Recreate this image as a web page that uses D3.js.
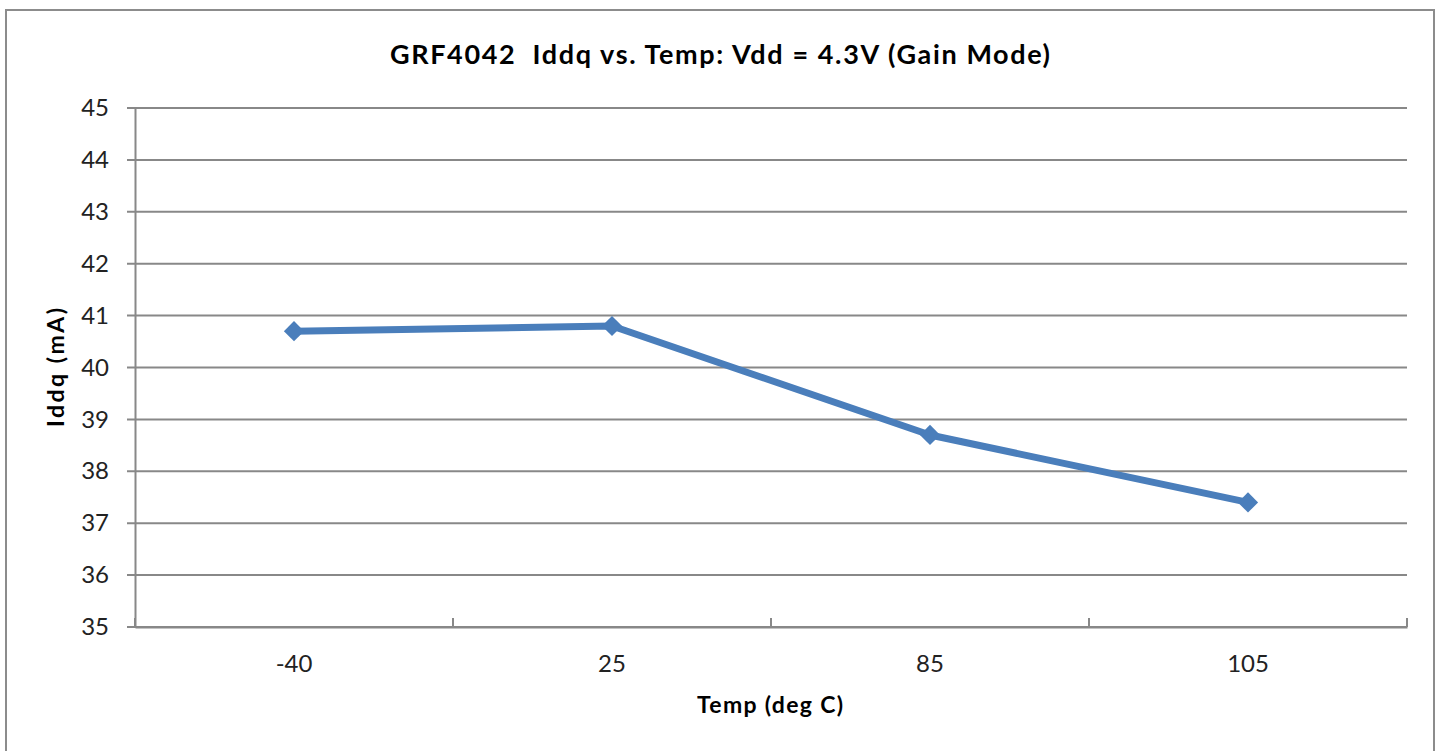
<!DOCTYPE html>
<html>
<head>
<meta charset="utf-8">
<title>GRF4042 Iddq vs. Temp</title>
<script src="https://cdn.jsdelivr.net/npm/d3@7"></script>
<style>
  body { margin: 0; background: #fff; }
  svg { display: block; font-family: Lato, "Open Sans", sans-serif; }
</style>
</head>
<body>
<svg width="1440" height="751"></svg>
<script>
// data
const temps = ['-40', '25', '85', '105']
const iddq = [40.7, 40.8, 38.7, 37.4]
const yTicks = [35, 36, 37, 38, 39, 40, 41, 42, 43, 44, 45]

const svg = d3.select('svg')
const margin = {top: 108, right: 33, bottom: 124, left: 135}
const width = 1440, height = 751
const innerWidth = width - margin.left - margin.right
const innerHeight = height - margin.top - margin.bottom
const gridColor = '#888888'
const lineColor = '#4a7ebb'
const font = 'Lato, "Open Sans", sans-serif'

// outer chart border
svg.append('rect')
  .attr('x', 6).attr('y', 10)
  .attr('width', 1428).attr('height', 760)
  .attr('fill', 'none')
  .attr('stroke', '#8c8c8c')
  .attr('stroke-width', 2)

svg.append('text')
  .attr('x', 720).attr('y', 64)
  .attr('text-anchor', 'middle')
  .attr('font-size', 27).attr('font-weight', 'bold')
  .attr('textLength', 660).attr('lengthAdjust', 'spacing')
  .attr('fill', '#000')
  .style('white-space', 'pre')
  .text('GRF4042  Iddq vs. Temp: Vdd = 4.3V (Gain Mode)')

const g = svg.append('g').attr('transform', `translate(${margin.left},${margin.top})`)

const x = d3.scaleBand().domain(temps).range([0, innerWidth])
const y = d3.scaleLinear().domain([35, 45]).range([innerHeight, 0])

// gridlines
g.append('g')
  .selectAll('line')
  .data(yTicks)
  .join('line')
  .attr('x1', -8).attr('x2', innerWidth)
  .attr('y1', d => y(d)).attr('y2', d => y(d))
  .attr('stroke', gridColor).attr('stroke-width', 2)

// y axis
const yAxis = g.append('g')
  .call(d3.axisLeft(y).tickValues(yTicks).tickSize(0).tickPadding(26))
yAxis.select('.domain').attr('stroke', gridColor).attr('stroke-width', 2)
yAxis.selectAll('text').attr('font-size', 24).attr('fill', '#222')
  .style('font-family', font)

// x axis with tick marks at category boundaries
const xAxis = g.append('g').attr('transform', `translate(0,${innerHeight})`)
  .call(d3.axisBottom(x).tickSize(0).tickPadding(28))
xAxis.select('.domain').attr('stroke', gridColor).attr('stroke-width', 2)
xAxis.selectAll('text').attr('font-size', 24).attr('fill', '#222')
  .style('font-family', font)
const bounds = temps.map(t => x(t)).concat([innerWidth])
xAxis.append('g').selectAll('line')
  .data(bounds)
  .join('line')
  .attr('x1', d => d).attr('x2', d => d)
  .attr('y1', 0).attr('y2', -9)
  .attr('stroke', gridColor).attr('stroke-width', 2)

// axis titles
svg.append('text')
  .attr('transform', `translate(64,${margin.top + innerHeight / 2}) rotate(-90)`)
  .attr('text-anchor', 'middle')
  .attr('font-size', 23).attr('font-weight', 'bold')
  .attr('textLength', 119).attr('lengthAdjust', 'spacing')
  .text('Iddq (mA)')

svg.append('text')
  .attr('x', 770).attr('y', 713)
  .attr('text-anchor', 'middle')
  .attr('font-size', 23).attr('font-weight', 'bold')
  .attr('textLength', 146).attr('lengthAdjust', 'spacing')
  .text('Temp (deg C)')

// series
const pts = temps.map((t, i) => ({t, v: iddq[i]}))
const line = d3.line().x(d => x(d.t) + x.bandwidth() / 2).y(d => y(d.v))
g.append('path')
  .datum(pts)
  .attr('d', line)
  .attr('fill', 'none')
  .attr('stroke', lineColor)
  .attr('stroke-width', 7)
  .attr('stroke-linejoin', 'round')

g.selectAll('.marker')
  .data(pts)
  .join('path')
  .attr('class', 'marker')
  .attr('transform', d => `translate(${x(d.t) + x.bandwidth() / 2},${y(d.v)})`)
  .attr('d', d3.symbol().type(d3.symbolDiamond2).size(260))
  .attr('fill', lineColor)
</script>
</body>
</html>
